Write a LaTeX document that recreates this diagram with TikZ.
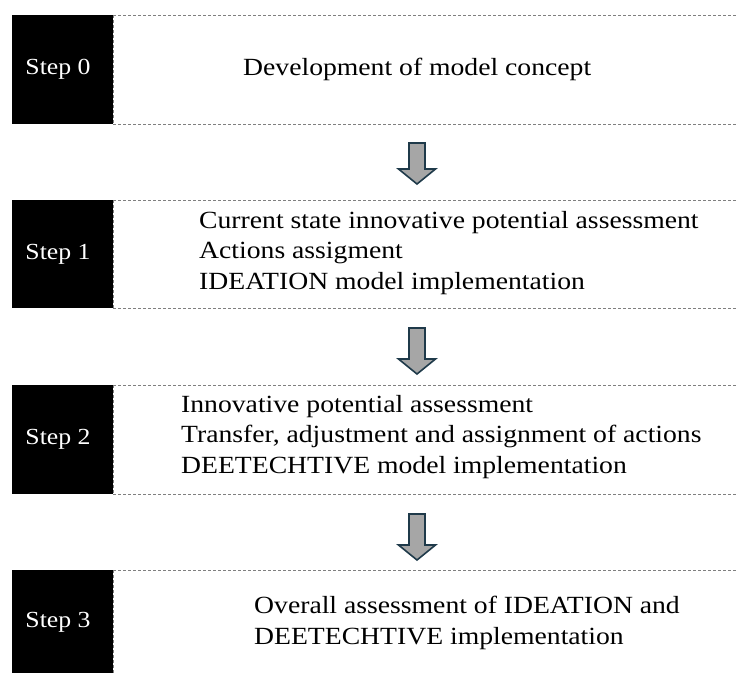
\documentclass[tikz,border=0pt]{standalone}
\usepackage{fontspec}
\setmainfont[FakeStretch=1.12]{Liberation Serif}
\definecolor{dashgray}{HTML}{7F7F7F}
\definecolor{arrowfill}{HTML}{A6A6A6}
\definecolor{arrowline}{HTML}{1F3A4A}
\tikzset{
  stepline/.style={draw=dashgray, dash pattern=on 3pt off 2pt, line width=0.9pt},
  steplabel/.style={text=white, font=\fontsize{23}{26}\selectfont, inner sep=0pt},
  bodytext/.style={anchor=west, align=left, inner sep=0pt, font=\fontsize{24.7}{30.5}\selectfont},
  downarrow/.style={fill=arrowfill, draw=arrowline, line width=1.6pt, line join=miter}
}
\newcommand{\downarr}[3]{% x center, shaft top, tip
  \pgfmathsetmacro{\hy}{#3-15}
  \draw[downarrow] (#1-8,#2) -- (#1+8,#2) -- (#1+8,\hy) -- (#1+18.5,\hy) -- (#1,#3) -- (#1-18.5,\hy) -- (#1-8,\hy) -- cycle;
}
\begin{document}
\begin{tikzpicture}[x=1pt,y=-1pt]
\useasboundingbox (0,0) rectangle (736,673);
% Step 0
\fill[black] (12,15) rectangle (113,124);
\node[steplabel] (s0) at (58,69.5) {Step 0};
\draw[stepline] (113,15) -- (736,15);
\draw[stepline] (113,124) -- (736,124);
\draw[stepline] (113,15) -- (113,124);
\node[bodytext] (t0) at (243,69) {Development of model concept};
% Step 1
\fill[black] (12,200) rectangle (113,308);
\node[steplabel] (s1) at (58,254) {Step 1};
\draw[stepline] (113,200) -- (736,200);
\draw[stepline] (113,308) -- (736,308);
\draw[stepline] (113,200) -- (113,308);
\node[bodytext] (t1) at (199,253) {Current state innovative potential assessment\\Actions assigment\\IDEATION model implementation};
% Step 2
\fill[black] (12,385) rectangle (113,494);
\node[steplabel] (s2) at (58,439.5) {Step 2};
\draw[stepline] (113,385) -- (736,385);
\draw[stepline] (113,494) -- (736,494);
\draw[stepline] (113,385) -- (113,494);
\node[bodytext] (t2) at (181,437) {Innovative potential assessment\\Transfer, adjustment and assignment of actions\\DEETECHTIVE model implementation};
% Step 3
\fill[black] (12,570) rectangle (113,673);
\node[steplabel] (s3) at (58,622) {Step 3};
\draw[stepline] (113,570) -- (736,570);
\draw[stepline] (113,570) -- (113,673);
\node[bodytext] (t3) at (254,623) {Overall assessment of IDEATION and\\DEETECHTIVE implementation};
% arrows
\downarr{417}{143}{184}
\downarr{417}{328}{374}
\downarr{417}{514}{560}
\end{tikzpicture}
\end{document}
